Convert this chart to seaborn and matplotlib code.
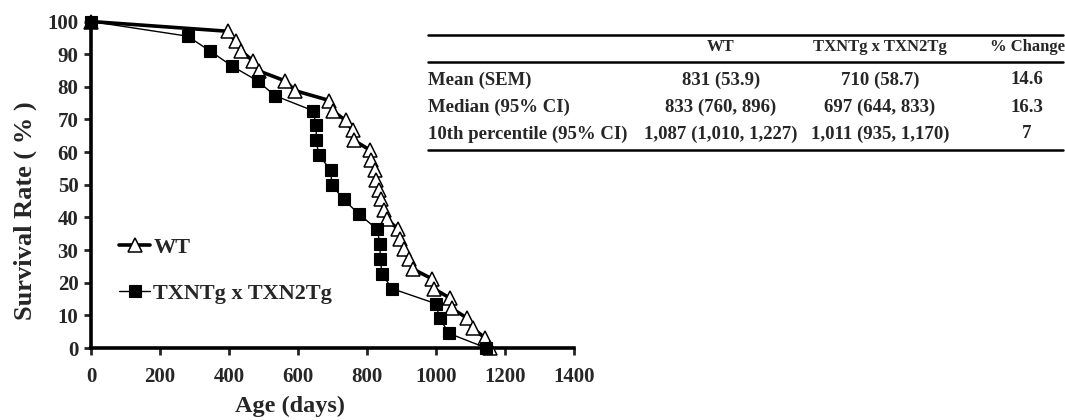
import matplotlib
matplotlib.use("Agg")
import matplotlib.pyplot as plt
from matplotlib.lines import Line2D
import numpy as np
import pandas as pd
import seaborn as sns

# ---- data ----
wt_days = [0, 398, 419, 436, 470, 488, 563, 592, 691, 700, 738, 758, 762, 809, 812,
           822, 827, 834, 841, 848, 857, 891, 895, 907, 921, 933, 988, 993, 1042,
           1046, 1091, 1106, 1143, 1156]
wt_surv = [100, 97.0, 93.9, 90.9, 87.9, 84.8, 81.8, 78.8, 75.8, 72.7, 69.7, 66.7,
           63.6, 60.6, 57.6, 54.5, 51.5, 48.5, 45.5, 42.4, 39.4, 36.4, 33.3, 30.3,
           27.3, 24.2, 21.2, 18.2, 15.2, 12.1, 9.1, 6.1, 3.0, 0]
tg_days = [0, 280, 346, 408, 483, 533, 643, 653, 653, 660, 695, 698, 732, 778, 829,
           838, 838, 844, 872, 999, 1011, 1037, 1146]
tg_surv = [100, 95.5, 90.9, 86.4, 81.8, 77.3, 72.7, 68.2, 63.6, 59.1, 54.5, 50.0,
           45.5, 40.9, 36.4, 31.8, 27.3, 22.7, 18.2, 13.6, 9.1, 4.5, 0]
series_names = ["WT", "TXNTg x TXN2Tg"]
x_ticks = [0, 200, 400, 600, 800, 1000, 1200, 1400]
y_ticks = [0, 10, 20, 30, 40, 50, 60, 70, 80, 90, 100]

table_header = ["", "WT", "TXNTg x TXN2Tg", "% Change"]
table_rows = ["Mean (SEM)", "Median (95% CI)", "10th percentile (95% CI)"]
table_wt = ["831 (53.9)", "833 (760, 896)", "1,087 (1,010, 1,227)"]
table_tg = ["710 (58.7)", "697 (644, 833)", "1,011 (935, 1,170)"]
table_change = ["14.6", "16.3", "7"]

# ---- style ----
sns.set_style("ticks")
plt.rcParams['font.family'] = ['Liberation Serif', 'DejaVu Serif']

W, H = 1065, 420
fig = plt.figure(figsize=(W / 100, H / 100), dpi=100)


def fx(px):
    return px / W


def fy(py):
    return 1 - py / H


ax = fig.add_axes([fx(91), fy(348), fx(574) - fx(91), fy(21.5) - fy(348)])

df_wt = pd.DataFrame({"Age": wt_days, "Survival": wt_surv})
df_tg = pd.DataFrame({"Age": tg_days, "Survival": tg_surv})

sns.lineplot(data=df_wt, x="Age", y="Survival", ax=ax, estimator=None, sort=False,
             color="black", linewidth=2.6, marker="^", markersize=10,
             markerfacecolor="white", markeredgecolor="black", markeredgewidth=1.1,
             clip_on=False, label=series_names[0], zorder=3)
sns.lineplot(data=df_tg, x="Age", y="Survival", ax=ax, estimator=None, sort=False,
             color="black", linewidth=1.0, marker="s", markersize=8,
             markerfacecolor="black", markeredgecolor="black", markeredgewidth=0.8,
             clip_on=False, label=series_names[1], zorder=4)

ax.set_xlim(0, 1400)
ax.set_ylim(0, 100)
ax.set_xticks(x_ticks)
ax.set_yticks(y_ticks)
ax.tick_params(axis="both", which="major", direction="out", length=5, width=2,
               labelsize=15)
ax.tick_params(axis="x", pad=9)
ax.tick_params(axis="y", pad=4)
for lab in ax.get_xticklabels() + ax.get_yticklabels():
    lab.set_fontweight("bold")
for s in ["top", "right"]:
    ax.spines[s].set_visible(False)
for s in ["left", "bottom"]:
    ax.spines[s].set_linewidth(2.6)
    ax.spines[s].set_color("black")

ax.set_xlabel("Age (days)", fontsize=17.5, fontweight="bold")
ax.xaxis.set_label_coords((290 - 91) / (574 - 91), -0.145)
ax.set_ylabel("Survival Rate ( % )", fontsize=19, fontweight="bold")
ax.yaxis.set_label_coords(-0.112, (348 - 211) / (348 - 21.5))

leg = ax.legend(loc="upper left", bbox_to_anchor=(fx(119), fy(237)),
                bbox_transform=fig.transFigure, frameon=False, borderpad=0,
                borderaxespad=0, handlelength=1.4, handletextpad=0.15,
                labelspacing=1.15, prop={"size": 16, "weight": "bold"})

# ---- summary table ----
x_left, x_right = 428, 1063
col_x = [428, 721, 880, 1027]
header_y = 47
row_y = [80, 107, 134]
fs_head = 12
fs = 13.5
for y in [35, 62, 150]:
    fig.add_artist(Line2D([fx(x_left), fx(x_right)], [fy(y), fy(y)],
                          transform=fig.transFigure, color="black", lw=1.8))
for j, txt in enumerate(table_header):
    if txt:
        fig.text(fx(col_x[j]), fy(header_y), txt, ha="center", va="center",
                 fontsize=fs_head, fontweight="bold")
for i, lab in enumerate(table_rows):
    fig.text(fx(col_x[0]), fy(row_y[i]), lab, ha="left", va="center",
             fontsize=fs, fontweight="bold")
    fig.text(fx(col_x[1]), fy(row_y[i]), table_wt[i], ha="center", va="center",
             fontsize=fs, fontweight="bold")
    fig.text(fx(col_x[2]), fy(row_y[i]), table_tg[i], ha="center", va="center",
             fontsize=fs, fontweight="bold")
    fig.text(fx(col_x[3]), fy(row_y[i]), table_change[i], ha="center", va="center",
             fontsize=fs, fontweight="bold")

fig.savefig("out.png", dpi=100)
